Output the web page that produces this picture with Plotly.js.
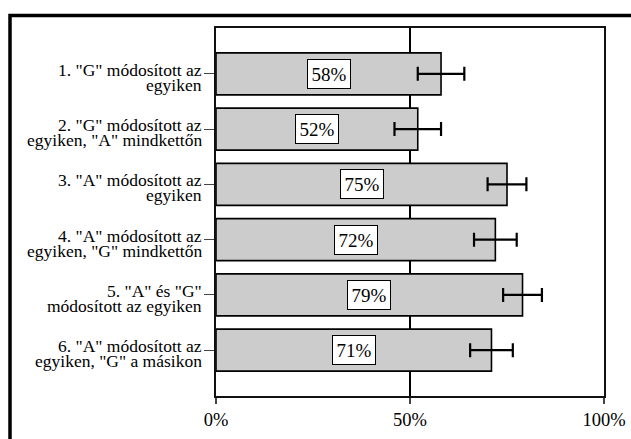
<!DOCTYPE html>
<html>
<head>
<meta charset="utf-8">
<script src="https://cdn.plot.ly/plotly-3.0.1.min.js"></script>
</head>
<body style="margin:0">
<div id="chart" style="width:631px;height:439px"></div>
<script>
// Data
const categories = ['c1','c2','c3','c4','c5','c6'];
const labelLine1 = ['1. "G" módosított az', '2. "G" módosított az', '3. "A" módosított az', '4. "A" módosított az', '5. "A" és "G"', '6. "A" módosított az'];
const labelLine2 = ['egyiken', 'egyiken, "A" mindkettőn', 'egyiken', 'egyiken, "G" mindkettőn', 'módosított az egyiken', 'egyiken, "G" a másikon'];
const values = [58, 52, 75, 72, 79, 71];
const errors = [6, 6, 5, 5.5, 5, 5.5];
const valueLabels = ['58%', '52%', '75%', '72%', '79%', '71%'];
const xTickVals = [0, 50, 100];
const xTickText = ['0%', '50%', '100%'];

const FONT = 'Liberation Serif';

const trace = {
  type: 'bar',
  orientation: 'h',
  y: categories,
  x: values,
  width: 0.76,
  marker: {color: '#cccccc', line: {color: '#000', width: 1.6}},
  error_x: {type: 'data', array: errors, visible: true, color: '#000', thickness: 2.2, width: 7},
  hoverinfo: 'none'
};

const annotations = [];
categories.forEach((c, i) => {
  annotations.push({
    x: values[i] / 2, y: c, xref: 'x', yref: 'y', text: valueLabels[i], showarrow: false,
    font: {family: FONT, size: 19, color: '#000'}, bgcolor: '#fff', bordercolor: '#000', borderwidth: 1, borderpad: 3.5
  });
  annotations.push({
    x: -0.03, y: c, xref: 'paper', yref: 'y', xanchor: 'right', yanchor: 'middle', yshift: 4,
    text: labelLine1[i], showarrow: false, font: {family: FONT, size: 17.5, color: '#000'}
  });
  annotations.push({
    x: -0.03, y: c, xref: 'paper', yref: 'y', xanchor: 'right', yanchor: 'middle', yshift: -11,
    text: labelLine2[i], showarrow: false, font: {family: FONT, size: 17.5, color: '#000'}
  });
});

const layout = {
  width: 631, height: 439,
  margin: {l: 216, r: 27, t: 28, b: 43, pad: 0},
  paper_bgcolor: '#fff', plot_bgcolor: '#fff',
  showlegend: false,
  xaxis: {
    range: [0, 100], tickvals: xTickVals, ticktext: xTickText,
    showgrid: true, gridcolor: '#000', gridwidth: 1.5,
    showline: true, linecolor: '#111', linewidth: 2, mirror: true,
    ticks: 'outside', ticklen: 6, tickcolor: '#444', tickwidth: 1.5,
    tickfont: {family: FONT, size: 18.5, color: '#000'}, zeroline: false, fixedrange: true
  },
  yaxis: {
    type: 'category', range: [5.83, -0.83],
    showgrid: false, showticklabels: false,
    showline: true, linecolor: '#111', linewidth: 2, mirror: true,
    ticks: 'outside', ticklen: 10, tickcolor: '#444', tickwidth: 1.2, zeroline: false, fixedrange: true
  },
  annotations: annotations,
  shapes: [{
    type: 'rect', xref: 'paper', yref: 'paper',
    x0: (10 - 216) / 388, x1: (660 - 216) / 388,
    y0: (396 - 470) / 368, y1: 1 + (28 - 15.5) / 368,
    line: {color: '#000', width: 3.5}, fillcolor: 'rgba(0,0,0,0)'
  }]
};

Plotly.newPlot('chart', [trace], layout, {displayModeBar: false});
</script>
</body>
</html>
